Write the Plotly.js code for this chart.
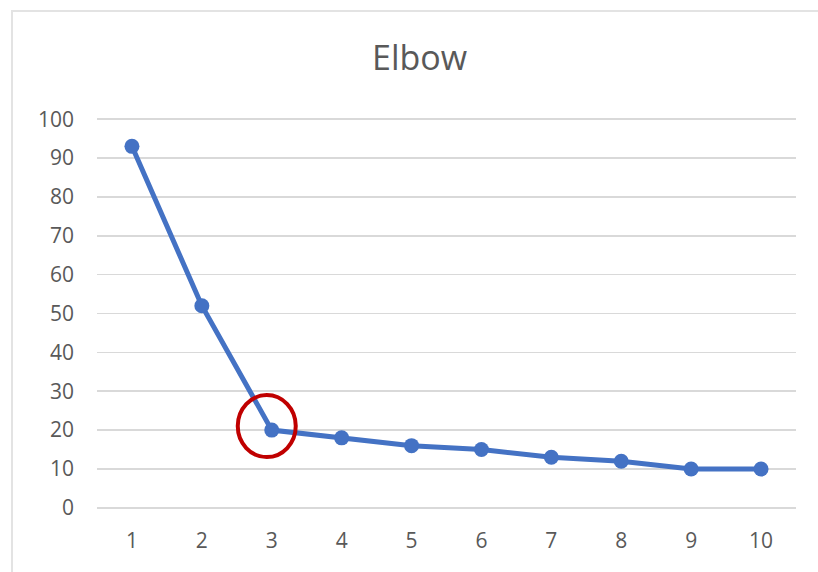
<!DOCTYPE html>
<html>
<head>
<meta charset="utf-8">
<script src="https://cdn.plot.ly/plotly-3.0.1.min.js"></script>
<style>
  html, body { margin: 0; padding: 0; background: #ffffff; }
  #frame { position: absolute; left: 11px; top: 10px; width: 900px; height: 700px;
           border: 2px solid #e3e3e3; box-sizing: border-box; }
  #chart { position: absolute; left: 0; top: 0; width: 818px; height: 572px; }
</style>
</head>
<body>
<div id="frame"></div>
<div id="chart"></div>
<script>
const categories = ['1', '2', '3', '4', '5', '6', '7', '8', '9', '10'];
const values = [93, 52, 20, 18, 16, 15, 13, 12, 10, 10];
const yTicks = [0, 10, 20, 30, 40, 50, 60, 70, 80, 90, 100];
const chartTitle = 'Elbow';
const elbowIndex = 2;

const trace = {
  x: categories,
  y: values,
  type: 'scatter',
  mode: 'lines+markers',
  line: { color: '#4472c4', width: 5 },
  marker: { color: '#4472c4', size: 15 },
  hoverinfo: 'x+y'
};

const layout = {
  width: 818,
  height: 572,
  paper_bgcolor: 'rgba(0,0,0,0)',
  plot_bgcolor: 'rgba(0,0,0,0)',
  margin: { l: 97, r: 22, t: 118, b: 63 },
  showlegend: false,
  font: { family: 'Open Sans, sans-serif', color: '#595959', size: 21 },
  title: {
    text: chartTitle,
    font: { family: 'Open Sans, sans-serif', size: 34, color: '#595959' },
    x: 0.513, xanchor: 'center',
    y: 0.898, yanchor: 'middle'
  },
  xaxis: {
    type: 'category',
    range: [-0.5, 9.5],
    showgrid: false,
    zeroline: false,
    showline: false,
    ticks: '',
    ticklabelstandoff: 17,
    tickfont: { size: 21, color: '#595959' }
  },
  yaxis: {
    range: [-0.3, 100.3],
    tickvals: yTicks,
    ticktext: yTicks.map(String),
    showgrid: true,
    gridcolor: '#d9d9d9',
    gridwidth: 1.6,
    zeroline: false,
    showline: false,
    ticks: '',
    ticklabelstandoff: 22,
    tickfont: { size: 21, color: '#595959' }
  },
  shapes: [{
    type: 'circle',
    xref: 'x', yref: 'y',
    xsizemode: 'pixel', ysizemode: 'pixel',
    xanchor: elbowIndex, yanchor: values[elbowIndex],
    x0: -34, x1: 24, y0: -27, y1: 35,
    line: { color: '#c00000', width: 4 },
    fillcolor: 'rgba(0,0,0,0)',
    layer: 'above'
  }]
};

Plotly.newPlot('chart', [trace], layout, { displayModeBar: false, staticPlot: true });
</script>
</body>
</html>
